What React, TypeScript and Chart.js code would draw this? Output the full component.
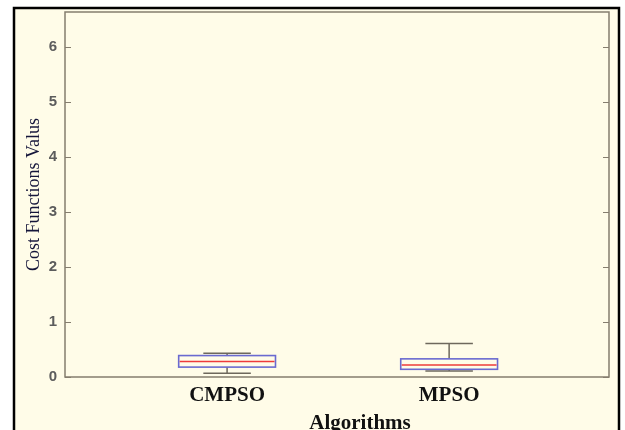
import React, { useEffect, useRef } from "react";
import { Chart, registerables } from "chart.js";

Chart.register(...registerables);

const categories = ["CMPSO", "MPSO"];
const positions = [1, 2];
const whiskerLow = [0.07, 0.11];
const q1 = [0.18, 0.14];
const medians = [0.28, 0.22];
const q3 = [0.39, 0.33];
const whiskerHigh = [0.43, 0.61];
const yTicks = [0, 1, 2, 3, 4, 5, 6];
const xTitle = "Algorithms";

const BG = "#fffce8";
const AXIS = "#857d6e";
const WHISKER = "#6e685c";
const BOX = "#6a6ad0";
const MEDIAN = "#ee3b3b";
const BOX_HALF = 0.218;
const CAP_HALF = 0.107;

const framePlugin = {
  id: "frame",
  beforeDraw(chart: any) {
    const { ctx, width, height } = chart;
    ctx.save();
    ctx.fillStyle = "#ffffff";
    ctx.fillRect(0, 0, width, height);
    ctx.fillStyle = BG;
    ctx.fillRect(14, 8, 605, height - 8);
    ctx.strokeStyle = "#000000";
    ctx.lineWidth = 2.5;
    ctx.beginPath();
    ctx.moveTo(14, height + 2);
    ctx.lineTo(14, 8);
    ctx.lineTo(619, 8);
    ctx.lineTo(619, height + 2);
    ctx.stroke();
    ctx.restore();
  },
  afterDraw(chart: any) {
    const { ctx, chartArea } = chart;
    const ys = chart.scales.y;
    const { left, right, top, bottom } = chartArea;
    ctx.save();
    ctx.strokeStyle = AXIS;
    ctx.lineWidth = 1.5;
    ctx.strokeRect(left, top, right - left, bottom - top);
    ctx.lineWidth = 1.2;
    ctx.beginPath();
    yTicks.forEach((v) => {
      const y = Math.round(ys.getPixelForValue(v)) + 0.5;
      ctx.moveTo(left, y);
      ctx.lineTo(left + 6, y);
      ctx.moveTo(right, y);
      ctx.lineTo(right - 6, y);
    });
    ctx.stroke();
    ctx.fillStyle = "#111111";
    ctx.font = "bold 21px 'Liberation Serif', serif";
    ctx.textAlign = "center";
    ctx.textBaseline = "alphabetic";
    ctx.fillText(xTitle, 360, 429);
    ctx.restore();
  },
};

const boxPlugin = {
  id: "boxes",
  afterDatasetsDraw(chart: any) {
    const { ctx } = chart;
    const xs = chart.scales.x;
    const ys = chart.scales.y;
    ctx.save();
    positions.forEach((p, i) => {
      const cx = xs.getPixelForValue(p);
      const bl = xs.getPixelForValue(p - BOX_HALF);
      const br = xs.getPixelForValue(p + BOX_HALF);
      const cl = xs.getPixelForValue(p - CAP_HALF);
      const cr = xs.getPixelForValue(p + CAP_HALF);
      const yLo = ys.getPixelForValue(whiskerLow[i]);
      const yQ1 = ys.getPixelForValue(q1[i]);
      const yMed = ys.getPixelForValue(medians[i]);
      const yQ3 = ys.getPixelForValue(q3[i]);
      const yHi = ys.getPixelForValue(whiskerHigh[i]);
      ctx.strokeStyle = WHISKER;
      ctx.lineWidth = 1.5;
      ctx.beginPath();
      ctx.moveTo(cx, yQ3);
      ctx.lineTo(cx, yHi);
      ctx.moveTo(cl, yHi);
      ctx.lineTo(cr, yHi);
      ctx.moveTo(cx, yQ1);
      ctx.lineTo(cx, yLo);
      ctx.moveTo(cl, yLo);
      ctx.lineTo(cr, yLo);
      ctx.stroke();
      ctx.fillStyle = BG;
      ctx.fillRect(bl, yQ3, br - bl, yQ1 - yQ3);
      ctx.strokeStyle = BOX;
      ctx.lineWidth = 1.6;
      ctx.strokeRect(bl, yQ3, br - bl, yQ1 - yQ3);
      ctx.strokeStyle = MEDIAN;
      ctx.lineWidth = 1.5;
      ctx.beginPath();
      ctx.moveTo(bl + 1, yMed);
      ctx.lineTo(br - 1, yMed);
      ctx.stroke();
    });
    ctx.restore();
  },
};

export default function App() {
  const ref = useRef<HTMLCanvasElement | null>(null);
  useEffect(() => {
    document.body.style.margin = "0";
    const canvas = ref.current;
    if (!canvas) return;
    const chart = new Chart(canvas, {
      type: "scatter",
      data: {
        datasets: [
          {
            data: positions.map((p, i) => ({ x: p, y: medians[i] })),
            pointRadius: 0,
            showLine: false,
          },
        ],
      },
      options: {
        animation: false,
        responsive: false,
        devicePixelRatio: 1,
        layout: { padding: { left: 8, right: 16, top: 12, bottom: 0 } },
        plugins: {
          legend: { display: false },
          tooltip: { enabled: false },
        },
        scales: {
          x: {
            type: "linear",
            min: 0.27,
            max: 2.72,
            afterBuildTicks: (s: any) => {
              s.ticks = positions.map((v) => ({ value: v }));
            },
            afterFit: (s: any) => {
              s.height = 53;
              s.paddingLeft = 0;
              s.paddingRight = 0;
            },
            grid: { display: false, drawTicks: false },
            border: { display: false },
            ticks: {
              autoSkip: false,
              maxRotation: 0,
              padding: 6,
              color: "#111111",
              font: { family: "'Liberation Serif', serif", size: 21, weight: "bold" },
              callback: (v: any) => {
                const idx = positions.indexOf(Number(v));
                return idx >= 0 ? categories[idx] : "";
              },
            },
            title: { display: false },
          },
          y: {
            type: "linear",
            min: 0,
            max: 6.64,
            afterBuildTicks: (s: any) => {
              s.ticks = yTicks.map((v) => ({ value: v }));
            },
            afterFit: (s: any) => {
              s.width = 57;
              s.paddingTop = 0;
              s.paddingBottom = 0;
            },
            grid: { display: false, drawTicks: false },
            border: { display: false },
            ticks: {
              padding: 8,
              color: "#5c5c5c",
              font: { family: "'Liberation Sans', Arial, sans-serif", size: 15, weight: "bold" },
              callback: (v: any) => String(v),
            },
            title: {
              display: true,
              text: "Cost Functions Valus",
              color: "#15153a",
              font: { family: "'Liberation Serif', serif", size: 18, weight: "normal" },
              padding: { top: 15, bottom: 0 },
            },
          },
        },
      },
      plugins: [framePlugin, boxPlugin],
    } as any);
    return () => chart.destroy();
  }, []);
  return <canvas ref={ref} width={625} height={430} style={{ display: "block", width: 625, height: 430 }} />;
}
